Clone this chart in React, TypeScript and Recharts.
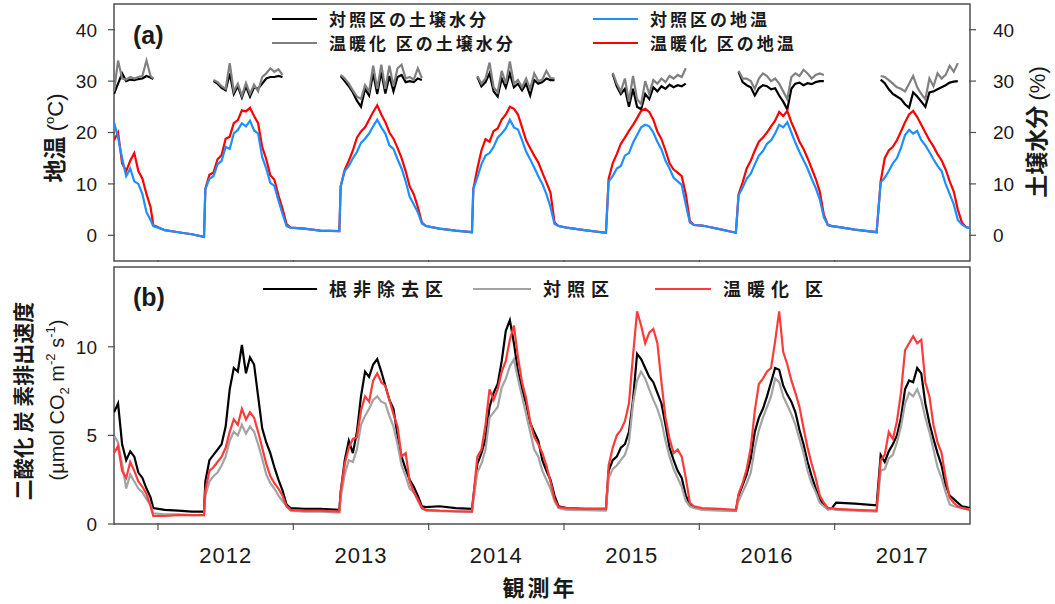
import React from "react";
import { LineChart, Line, XAxis, YAxis, ReferenceArea, Legend } from "recharts";

const _ = null;

// sample dates (decimal years); dense in the growing season, sparse over winter
const years = [
  2011.675, 2011.705, 2011.735, 2011.765, 2011.795, 2011.825, 2011.855, 2011.885, 2011.915, 2011.945, 2011.965,
  2012.05, 2012.15, 2012.25, 2012.34,
  2012.35, 2012.38, 2012.41, 2012.44, 2012.47, 2012.5, 2012.53, 2012.56, 2012.59, 2012.62, 2012.65, 2012.68, 2012.71, 2012.74, 2012.77, 2012.8, 2012.83, 2012.86, 2012.89, 2012.92, 2012.95, 2012.98,
  2013.08, 2013.2, 2013.34,
  2013.35, 2013.38, 2013.41, 2013.44, 2013.47, 2013.5, 2013.53, 2013.56, 2013.59, 2013.62, 2013.65, 2013.68, 2013.71, 2013.74, 2013.77, 2013.8, 2013.83, 2013.86, 2013.89, 2013.92, 2013.95, 2013.98,
  2014.08, 2014.2, 2014.32,
  2014.33, 2014.36, 2014.39, 2014.42, 2014.45, 2014.48, 2014.51, 2014.54, 2014.57, 2014.6, 2014.63, 2014.66, 2014.69, 2014.72, 2014.75, 2014.78, 2014.81, 2014.84, 2014.87, 2014.9, 2014.93, 2014.96,
  2015.02, 2015.15, 2015.31,
  2015.33, 2015.36, 2015.39, 2015.42, 2015.45, 2015.48, 2015.51, 2015.54, 2015.57, 2015.6, 2015.63, 2015.66, 2015.69, 2015.72, 2015.75, 2015.78, 2015.81, 2015.84, 2015.87, 2015.9, 2015.93, 2015.96,
  2016.02, 2016.15, 2016.27,
  2016.29, 2016.32, 2016.35, 2016.38, 2016.41, 2016.44, 2016.47, 2016.5, 2016.53, 2016.56, 2016.59, 2016.62, 2016.65, 2016.68, 2016.71, 2016.74, 2016.77, 2016.8, 2016.83, 2016.86, 2016.89, 2016.92, 2016.95,
  2016.98, 2017.01, 2017.15, 2017.31,
  2017.34, 2017.37, 2017.4, 2017.43, 2017.46, 2017.49, 2017.52, 2017.55, 2017.58, 2017.61, 2017.64, 2017.67, 2017.7, 2017.73, 2017.76, 2017.79, 2017.82, 2017.85, 2017.88, 2017.91, 2017.94, 2017.97, 2018.0,
];

// (a) soil temperature, °C
const soilTempControl = [
  22, 19, 15, 11.5, 13, 10.5, 10, 8, 4.5, 3, 1.8,
  1.0, 0.6, 0.2, -0.3,
  9, 11, 11.5, 13.8, 14.5, 17.2, 16.8, 19.8, 20.5, 21.8, 21.2, 22.3, 20.4, 19.8, 15.2, 13, 10.2, 9.6, 6.8, 4.2, 1.8, 1.5,
  1.3, 0.9, 0.8,
  9.5, 12.5, 13.5, 15, 16.2, 18, 18.8, 19.8, 21.2, 22.5, 21, 19.8, 17.5, 16.8, 14.8, 13, 10.5, 7.5, 6, 4.5, 2.3, 1.8,
  1.3, 0.9, 0.6,
  9, 11.3, 13.8, 15.5, 16, 17.2, 19, 19.8, 20.8, 22.5, 21, 20.6, 18.5, 16.3, 14.8, 13.2, 11.5, 10, 8, 5.5, 2.2, 1.8,
  1.5, 1.0, 0.5,
  10.5, 11.5, 13, 13.5, 15.5, 16, 18, 19.5, 21, 21.5, 21.2, 20, 18.2, 16.7, 14.5, 13, 11.2, 10.5, 9.8, 6, 2.5, 2,
  1.9, 1.2, 0.5,
  7.8, 9.3, 11, 12, 13.8, 15.5, 16.4, 17.8, 18.5, 19.8, 21.5, 21, 22, 20, 18, 16.2, 14.6, 13, 11, 9.2, 7, 3.5, 2,
  1.8, 1.7, 1.1, 0.6,
  10.3, 11.2, 12.5, 14, 15, 17, 19.5, 20.5, 19.8, 20.3, 18.5, 17.5, 16.2, 14.8, 13.5, 12.5, 10, 8, 6, 3, 2.1, 1.6, 1.4,
];

const soilTempWarming = [
  18.5, 20, 14, 12.5, 14.5, 16, 12.5, 11, 8, 5.5, 2,
  1.0, 0.6, 0.2, -0.3,
  9, 11.8, 12.2, 14.8, 15.6, 18.8, 19.2, 21.8, 22.4, 24.3, 24.1, 24.8, 23.2, 21.8, 17.2, 14.8, 11.7, 10.8, 7.8, 5.2, 2.2, 1.5,
  1.3, 0.9, 0.8,
  9.5, 12.8, 14.5, 16.5, 19, 20.2, 21, 22.5, 24, 25.3, 23.5, 22, 20, 18.8, 17, 15, 12.5, 9.5, 8, 5.5, 2.5, 1.8,
  1.3, 0.9, 0.6,
  9, 13, 16.5, 18.7, 18.2, 20.3, 20.8, 22.5, 23.5, 25, 24.6, 23.5, 21, 18.5, 17, 15.5, 14.2, 12.2, 10.3, 8.3, 2.5, 1.8,
  1.5, 1.0, 0.5,
  11, 14, 15.8, 17.8, 19, 20.3, 21.5, 22.8, 24.2, 24.6, 24, 22.5, 20.2, 18.7, 16.5, 14, 12.8, 12.2, 11.5, 8, 2.8, 2,
  1.9, 1.2, 0.5,
  8, 10.3, 13, 14.5, 16.5, 18.2, 19, 20, 21.2, 22.3, 24, 23.2, 24.2, 22, 20.2, 18.2, 16.8, 15, 13, 11, 8.5, 4, 2,
  1.8, 1.7, 1.1, 0.6,
  10.5, 15, 16.5, 17.2, 18.5, 20.2, 22, 23.5, 24.2, 23, 21.5, 20, 18.5, 17.3, 15.8, 14.6, 12.8, 10.5, 8.5, 5, 2.5, 1.6, 1.4,
];

// (a) soil moisture, %
const soilMoistControl = [
  27.5, 29.5, 31.5, 30, 30.3, 30.2, 30.4, 30.5, 31, 30.7, 30.4,
  _, _, _, _,
  _, _, 30, 29.5, 28.7, 28.2, 31.5, 27.5, 29, 26.8, 29, 27, 28.8, 28.5, 29.5, 30.5, 30.8, 30.8, 31, 30.8, _, _,
  _, _, _,
  31, 30, 29, 27.8, 26.2, 25, 28.5, 27.2, 31.5, 27.5, 31.8, 27.6, 31, 28, 30.8, 31.2, 29.8, 30, 29.8, 30.5, 30.2, _,
  _, _, _,
  _, 30.8, 29, 29.8, 31.5, 28, 27, 30.5, 28.8, 31.5, 28.8, 29.5, 28.2, 29.5, 27.2, 30.2, 29.5, 29.8, 30.5, 30.2, 30.2, _,
  _, _, _,
  _, 31.4, 29, 27.5, 28.5, 25, 28.5, 25, 24.5, 27.5, 26.5, 28.8, 28, 29, 28.5, 29.3, 28.8, 29.2, 29, 29.5, _, _,
  _, _, _,
  31.8, 29.8, 29.2, 28.8, 27.2, 28.6, 29.2, 29, 28.4, 28.6, 27.2, 26, 24.5, 28.5, 29.5, 29.7, 29.2, 29.6, 29.4, 29.8, 30, 30, _,
  _, _, _, _,
  30.3, 29.6, 28.4, 27.5, 27, 26.5, 25.5, 24.8, 27.8, 27, 26, 25, 27.8, 28, 28.4, 28.8, 29.2, 29.7, 29.9, 30, _, _, _,
];

const soilMoistWarming = [
  28, 34, 30.5, 30.3, 30.8, 30.5, 30.8, 31, 34, 31, 30.5,
  _, _, _, _,
  _, _, 30.2, 29.8, 29, 28.5, 33.5, 28, 29.5, 27.2, 29.6, 27.5, 29.3, 28, 30.8, 31.5, 32.5, 31.8, 32.3, 31.2, _, _,
  _, _, _,
  31.2, 30.5, 29.5, 28.2, 27, 26.5, 29.2, 28, 33, 28.5, 33.2, 28.5, 33, 29, 32.5, 33.2, 30.5, 30.8, 30.3, 32.5, 30.6, _,
  _, _, _,
  _, 31, 29.5, 30.5, 33.6, 28.8, 27.8, 32, 29.5, 33.8, 29.5, 30.2, 28.8, 30.5, 28.5, 31.5, 30, 30.3, 32, 30.6, 30.5, _,
  _, _, _,
  _, 31.6, 29.5, 28, 30.5, 26, 31, 26.5, 25.5, 30, 27.5, 30.2, 29.5, 30.5, 29.8, 31, 30.5, 31.2, 30.8, 32.5, _, _,
  _, _, _,
  32, 30.5, 30.5, 30, 28.5, 30.5, 31.5, 31, 30, 30.5, 29.5, 28, 26.5, 30.8, 31.5, 31, 32.2, 31.5, 30.5, 31.2, 31.5, 31.2, _,
  _, _, _, _,
  31, 30.8, 30.2, 29.5, 28.8, 28.5, 28, 29.5, 31, 28.8, 27.5, 26.5, 30.5, 29, 31.5, 30.5, 31.2, 33, 31.8, 33.5, _, _, _,
];

// (b) CO2 efflux, µmol CO2 m-2 s-1
const effluxRootIntact = [
  6.3, 6.8, 4.5, 3.6, 4.1, 3.8, 2.9, 2.6, 2.0, 1.5, 0.9,
  0.8, 0.75, 0.7, 0.7,
  2.4, 3.6, 3.9, 4.2, 4.5, 5.5, 7.6, 8.8, 8.6, 10.1, 8.5, 9.4, 9.0, 7.2, 5.4, 4.6, 4.0, 3.2, 2.5, 1.9, 1.1, 0.9,
  0.85, 0.85, 0.8,
  1.8, 3.6, 4.7, 4.0, 5.2, 7.2, 8.6, 8.3, 9.0, 9.3, 8.6, 7.8, 7.0, 6.5, 5.0, 3.8, 3.1, 2.5, 2.1, 1.6, 1.0, 0.95,
  1.0, 0.9, 0.85,
  1.5, 3.4, 4.0, 4.8, 6.6, 7.4, 7.9, 9.2, 10.9, 11.5, 10.2, 8.6, 7.6, 6.8, 5.7, 5.2, 4.7, 3.6, 3.0, 2.5, 1.6, 1.0,
  0.9, 0.85, 0.85,
  3.0, 3.6, 3.8, 4.3, 4.5, 5.2, 7.0, 9.6, 9.3, 8.8, 8.3, 8.0, 7.4, 6.8, 5.6, 4.3, 3.6, 3.0, 2.6, 1.6, 1.1, 0.95,
  0.85, 0.8, 0.75,
  1.6, 2.2, 2.8, 3.7, 5.2, 6.0, 6.5, 7.2, 8.0, 8.8, 8.7, 7.8, 7.3, 6.9, 6.3, 5.3, 4.5, 3.5, 2.7, 2.0, 1.4, 1.1, 0.9,
  0.9, 1.2, 1.15, 1.05,
  3.9, 3.5, 4.1, 4.5, 5.0, 6.0, 7.6, 8.1, 8.0, 8.8, 8.5, 6.8, 5.7, 4.8, 4.0, 3.3, 2.2, 1.6, 1.4, 1.2, 1.0, 0.95, 0.9,
];

const effluxControl = [
  5.0, 4.6, 3.4, 2.0, 2.8, 2.4, 2.0, 1.8, 1.4, 1.1, 0.6,
  0.55, 0.55, 0.5, 0.5,
  1.6, 2.4, 2.7, 2.9, 3.3, 3.8, 4.7, 5.2, 5.0, 5.6, 5.1, 5.5, 5.2, 4.5, 3.7, 2.8, 2.3, 2.0, 1.6, 1.3, 1.0, 0.75,
  0.7, 0.7, 0.65,
  1.5, 2.8, 3.6, 3.5, 4.2, 5.6, 6.1, 6.5, 7.0, 7.2, 6.9, 6.8, 6.1, 5.5, 4.5, 3.3, 2.7, 2.0, 1.8, 1.3, 0.9, 0.75,
  0.72, 0.7, 0.68,
  1.3, 2.9, 3.4, 4.2, 6.0, 6.3, 6.6, 7.7, 8.2, 8.9, 9.3, 8.2, 7.2, 6.2, 5.2, 4.2, 3.8, 3.0, 2.5, 2.0, 1.3, 0.9,
  0.8, 0.78, 0.75,
  2.6, 3.1, 3.3, 3.6, 3.9, 4.6, 6.8, 8.1, 8.6, 8.2, 7.6, 7.0, 6.5, 5.8, 4.7, 3.8, 3.1, 2.6, 2.1, 1.3, 1.0, 0.9,
  0.8, 0.75, 0.75,
  1.3, 1.8, 2.3, 2.9, 4.3, 5.3, 6.0, 6.6, 7.2, 8.2, 8.0, 7.2, 6.7, 6.2, 5.6, 4.8, 4.0, 3.0, 2.3, 1.8, 1.2, 1.0, 0.8,
  0.85, 0.8, 0.75, 0.7,
  3.0, 3.1, 3.7, 3.9, 4.6, 5.5, 6.8, 7.4, 7.2, 7.6, 7.0, 6.0, 5.2, 4.2, 3.2, 2.6, 1.8, 1.1, 1.0, 0.95, 0.9, 0.85, 0.82,
];

const effluxWarming = [
  4.0, 4.4, 3.0, 2.6, 3.5, 3.0, 2.4, 2.1, 1.7, 1.0, 0.45,
  0.45, 0.5, 0.5, 0.5,
  1.9, 3.0, 3.2, 3.5, 3.8, 4.3, 5.2, 5.9, 5.6, 6.5, 5.9, 6.3, 6.0, 5.2, 4.3, 3.4, 2.7, 2.3, 2.0, 1.6, 1.0, 0.8,
  0.75, 0.75, 0.7,
  1.8, 3.4, 4.3, 4.8, 4.9, 6.4, 7.2, 6.9, 8.1, 8.5, 8.0, 7.8, 7.0, 6.2, 5.5, 3.8, 4.0, 2.4, 1.8, 1.4, 0.9, 0.8,
  0.75, 0.72, 0.7,
  1.5, 3.8, 4.2, 5.6, 7.6, 7.0, 7.6, 8.6, 9.2, 10.4, 11.2, 9.4, 8.0, 7.1, 5.8, 4.9, 4.5, 4.0, 3.3, 2.4, 1.4, 0.95,
  0.9, 0.85, 0.85,
  3.3, 4.3, 5.0, 5.3, 5.8, 6.8, 9.5, 12.0, 11.2, 10.2, 10.8, 11.0, 10.2, 8.0, 6.0, 4.8, 4.0, 4.2, 3.8, 2.6, 1.2, 1.0,
  0.9, 0.85, 0.8,
  1.7, 2.3, 3.1, 4.3, 6.4, 7.9, 8.2, 8.6, 8.8, 10.3, 12.0, 9.7, 9.0, 8.1, 7.4, 6.6, 5.4, 4.3, 3.4, 2.6, 1.6, 1.2, 0.9,
  0.9, 0.85, 0.8, 0.75,
  3.6, 3.9, 5.2, 4.8, 5.8, 7.4, 9.8, 10.2, 10.6, 10.2, 10.4, 8.0, 7.2, 5.6, 4.6, 4.0, 2.6, 1.5, 1.2, 1.0, 0.9, 0.85, 0.8,
];

const yearTicks = [2012, 2013, 2014, 2015, 2016, 2017];
const yearLabelTicks = [2012.5, 2013.5, 2014.5, 2015.5, 2016.5, 2017.5];
const tempTicks = [0, 10, 20, 30, 40];
const effluxTicks = [0, 5, 10];
const xDomain: [number, number] = [2011.675, 2018.0];
const tempDomain: [number, number] = [-5, 45];
const effluxDomain: [number, number] = [0, 14.5];

const FRAME = "#505050";
const INK = "#1a1a1a";
const JP = '"Noto Sans CJK JP", "Noto Sans", sans-serif';
const LAT = '"Liberation Sans", Arial, sans-serif';
const SW = 2.2;

const dataA = years.map((t, i) => ({
  t,
  tempCtl: soilTempControl[i],
  tempWarm: soilTempWarming[i],
  moistCtl: soilMoistControl[i],
  moistWarm: soilMoistWarming[i],
}));

const dataB = years.map((t, i) => ({
  t,
  root: effluxRootIntact[i],
  ctl: effluxControl[i],
  warm: effluxWarming[i],
}));

// ticks point inward, labels sit outside
const LeftTick = ({ x, y, payload }: any) => (
  <g>
    <line x1={x} x2={x + 7} y1={y} y2={y} stroke={FRAME} strokeWidth={1.2} />
    <text x={x - 11} y={y} dy="0.36em" textAnchor="end" fontSize={19} fontFamily={LAT} fill={INK}>
      {payload.value}
    </text>
  </g>
);

const RightTick = ({ x, y, payload }: any) => (
  <g>
    <line x1={x - 7} x2={x} y1={y} y2={y} stroke={FRAME} strokeWidth={1.2} />
    <text x={x + 17} y={y} dy="0.36em" textAnchor="start" fontSize={19} fontFamily={LAT} fill={INK}>
      {payload.value}
    </text>
  </g>
);

const YearTick = ({ x, y, payload }: any) =>
  Number.isInteger(payload.value) ? (
    <line x1={x} x2={x} y1={y} y2={y - 7} stroke={FRAME} strokeWidth={1.2} />
  ) : (
    <text x={x} y={y + 33} textAnchor="middle" fontSize={22} letterSpacing={1} fontFamily={LAT} fill={INK}>
      {Math.floor(payload.value)}
    </text>
  );

type Item = { label: string; color: string; x: number; tx: number; y: number };

const LegendRows = ({ items, size, spacing }: { items: Item[]; size: number; spacing: number }) => (
  <div style={{ position: "relative", width: 1055, height: 60, fontFamily: JP, color: INK }}>
    {items.map((it) => (
      <React.Fragment key={it.label}>
        <div style={{ position: "absolute", left: it.x, top: it.y - 1.25, width: it.tx - it.x - 12, height: 2.5, background: it.color }} />
        <div
          style={{
            position: "absolute",
            left: it.tx,
            top: it.y - size * 0.7,
            fontSize: size,
            fontWeight: 700,
            letterSpacing: spacing,
            lineHeight: `${size * 1.4}px`,
            whiteSpace: "nowrap",
          }}
        >
          {it.label}
        </div>
      </React.Fragment>
    ))}
  </div>
);

const legendA: Item[] = [
  { label: "対照区の土壌水分", color: "#000000", x: 272, tx: 329, y: 19 },
  { label: "温暖化 区の土壌水分", color: "#808080", x: 272, tx: 329, y: 43 },
  { label: "対照区の地温", color: "#1e8fff", x: 593, tx: 650, y: 19 },
  { label: "温暖化 区の地温", color: "#ff0000", x: 593, tx: 650, y: 43 },
];

const legendB: Item[] = [
  { label: "根非除去区", color: "#000000", x: 263, tx: 329, y: 27 },
  { label: "対照区", color: "#a3a3a3", x: 473, tx: 543, y: 27 },
  { label: "温暖化 区", color: "#ff3a3a", x: 655, tx: 723, y: 27 },
];

export default function App() {
  return (
    <div style={{ position: "absolute", left: 0, top: 0, width: 1055, height: 604, background: "#fff", overflow: "hidden" }}>
      <div style={{ position: "absolute", left: 0, top: 0 }}>
        <LineChart width={1055} height={262} data={dataA} margin={{ top: 4, right: 84, bottom: 0, left: 113 }}>
          <XAxis
            xAxisId="t"
            dataKey="t"
            type="number"
            domain={xDomain}
            allowDataOverflow
            ticks={yearTicks}
            interval={0}
            height={1}
            tickMargin={0}
            tickLine={false}
            axisLine={false}
            tick={<YearTick />}
          />
          <YAxis
            yAxisId="temp"
            domain={tempDomain}
            allowDataOverflow
            ticks={tempTicks}
            interval={0}
            width={1}
            tickMargin={0}
            tickLine={false}
            axisLine={false}
            tick={<LeftTick />}
          />
          <YAxis
            yAxisId="moist"
            orientation="right"
            domain={tempDomain}
            allowDataOverflow
            ticks={tempTicks}
            interval={0}
            width={1}
            tickMargin={0}
            tickLine={false}
            axisLine={false}
            tick={<RightTick />}
          />
          <Legend
            verticalAlign="middle"
            align="center"
            layout="horizontal"
            wrapperStyle={{ left: 0, top: 0, width: 1055, height: 60 }}
            content={() => <LegendRows items={legendA} size={17} spacing={3} />}
          />
          <Line xAxisId="t" yAxisId="moist" dataKey="moistCtl" name="対照区の土壌水分" stroke="#000000" strokeWidth={SW} dot={false} isAnimationActive={false} />
          <Line xAxisId="t" yAxisId="moist" dataKey="moistWarm" name="温暖化 区の土壌水分" stroke="#808080" strokeWidth={SW} dot={false} isAnimationActive={false} />
          <Line xAxisId="t" yAxisId="temp" dataKey="tempWarm" name="温暖化 区の地温" stroke="#ff0000" strokeWidth={SW} dot={false} isAnimationActive={false} />
          <Line xAxisId="t" yAxisId="temp" dataKey="tempCtl" name="対照区の地温" stroke="#1e8fff" strokeWidth={SW} dot={false} isAnimationActive={false} />
          <ReferenceArea xAxisId="t" yAxisId="temp" x1={xDomain[0]} x2={xDomain[1]} y1={tempDomain[0]} y2={tempDomain[1]} fill="none" stroke={FRAME} strokeWidth={1.5} ifOverflow="visible" />
        </LineChart>
      </div>

      <div style={{ position: "absolute", left: 0, top: 262 }}>
        <LineChart width={1055} height={342} data={dataB} margin={{ top: 5, right: 85, bottom: 79, left: 113 }}>
          <XAxis
            xAxisId="t"
            dataKey="t"
            type="number"
            domain={xDomain}
            allowDataOverflow
            ticks={[...yearTicks, ...yearLabelTicks]}
            interval={0}
            height={1}
            tickMargin={0}
            tickLine={false}
            axisLine={false}
            tick={<YearTick />}
          />
          <YAxis
            yAxisId="flux"
            domain={effluxDomain}
            allowDataOverflow
            ticks={effluxTicks}
            interval={0}
            width={1}
            tickMargin={0}
            tickLine={false}
            axisLine={false}
            tick={<LeftTick />}
          />
          <Legend
            verticalAlign="middle"
            align="center"
            layout="horizontal"
            wrapperStyle={{ left: 0, top: 0, width: 1055, height: 60 }}
            content={() => <LegendRows items={legendB} size={18} spacing={6} />}
          />
          <Line xAxisId="t" yAxisId="flux" dataKey="root" name="根非除去区" stroke="#000000" strokeWidth={SW} dot={false} isAnimationActive={false} />
          <Line xAxisId="t" yAxisId="flux" dataKey="ctl" name="対照区" stroke="#a3a3a3" strokeWidth={SW} dot={false} isAnimationActive={false} />
          <Line xAxisId="t" yAxisId="flux" dataKey="warm" name="温暖化 区" stroke="#ff3a3a" strokeWidth={SW} dot={false} isAnimationActive={false} />
          <ReferenceArea xAxisId="t" yAxisId="flux" x1={xDomain[0]} x2={xDomain[1]} y1={effluxDomain[0]} y2={effluxDomain[1]} fill="none" stroke={FRAME} strokeWidth={1.5} ifOverflow="visible" />
        </LineChart>
      </div>

      <svg width={1055} height={604} style={{ position: "absolute", left: 0, top: 0, pointerEvents: "none" }}>
        <text x={133} y={44} fontFamily={LAT} fontWeight={700} fontSize={25} fill={INK}>(a)</text>
        <text x={133} y={306} fontFamily={LAT} fontWeight={700} fontSize={25} fill={INK}>(b)</text>

        <text transform="translate(63,138) rotate(-90)" textAnchor="middle" fill={INK}>
          <tspan fontFamily={JP} fontWeight={700} fontSize={23}>地温 </tspan>
          <tspan fontFamily={LAT} fontSize={22}>(</tspan>
          <tspan fontFamily={LAT} fontSize={13} dy={-9}>o</tspan>
          <tspan fontFamily={LAT} fontSize={22} dy={9}>C)</tspan>
        </text>

        <text transform="translate(1045,132) rotate(-90)" textAnchor="middle" fill={INK}>
          <tspan fontFamily={JP} fontWeight={700} fontSize={23}>土壌水分 </tspan>
          <tspan fontFamily={LAT} fontSize={22}>(%)</tspan>
        </text>

        <text transform="translate(31,401) rotate(-90)" textAnchor="middle" fontSize={21} fontFamily={JP} fontWeight={700} fill={INK}>
          二酸化 炭 素排出速度
        </text>
        <text transform="translate(64,400) rotate(-90)" textAnchor="middle" fontSize={20} fontFamily={LAT} fill={INK}>
          <tspan>(µmol CO</tspan>
          <tspan fontSize={13} dy={5}>2</tspan>
          <tspan dy={-5}> m</tspan>
          <tspan fontSize={13} dy={-9}>-2</tspan>
          <tspan dy={9}> s</tspan>
          <tspan fontSize={13} dy={-9}>-1</tspan>
          <tspan dy={9}>)</tspan>
        </text>

        <text x={540} y={596} textAnchor="middle" fontSize={22} fontFamily={JP} fontWeight={700} letterSpacing={3} fill={INK}>
          観測年
        </text>
      </svg>
    </div>
  );
}
